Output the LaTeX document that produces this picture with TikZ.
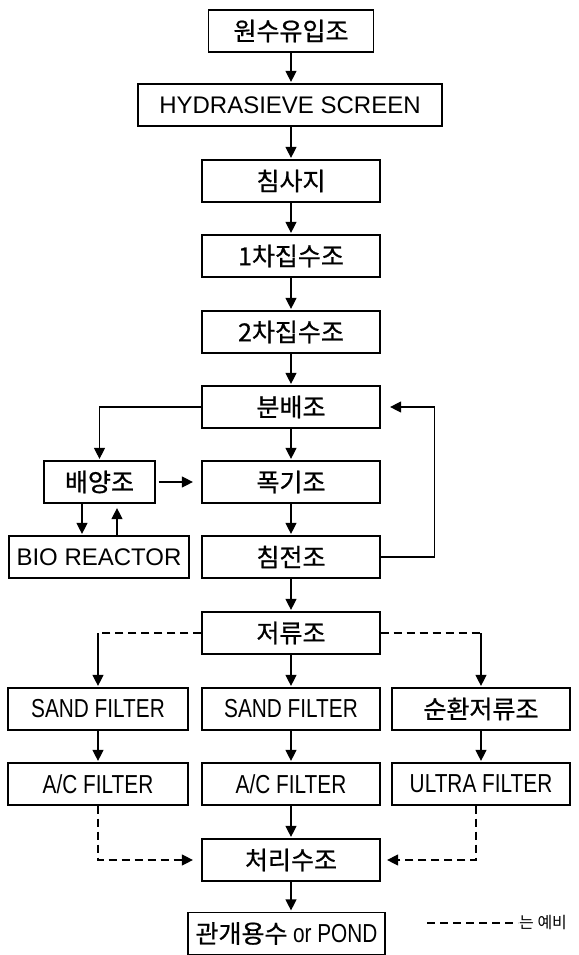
\documentclass[tikz,border=0pt]{standalone}
\usepackage{fontspec}
\setmainfont{Liberation Sans}
\newfontfamily\krf{Noto Sans CJK KR}[FakeBold=0.7]
\newfontfamily\krl{Noto Sans CJK KR}
\newfontfamily\cnd[FakeStretch=0.8]{Liberation Sans}
\usetikzlibrary{arrows.meta}
\begin{document}
\begin{tikzpicture}[x=1pt,y=-1pt,
  box/.style={draw, line width=1.2pt, inner sep=0pt, minimum height=42pt, align=center},
  kr/.style={font=\krf\fontsize{25}{25}\selectfont},
  lat/.style={font=\fontsize{24}{24}\selectfont},
  cn/.style={font=\cnd\fontsize{26}{26}\selectfont},
  arr/.style={line width=1.2pt, -{Triangle[length=11pt,width=11pt]}, shorten >=1.5pt},
  dsh/.style={line width=1.2pt, dash pattern=on 8pt off 5pt}]
\useasboundingbox (0,0) rectangle (578,955);
% main column
\node[box,kr,minimum width=165pt] (won) at (291,31) {원수유입조};
\node[box,lat,minimum width=304pt] (hyd) at (290,105) {HYDRASIEVE SCREEN};
\node[box,kr,minimum width=178pt] (sa) at (291,181) {침사지};
\node[box,kr,minimum width=178pt] (c1) at (291,256) {1차집수조};
\node[box,kr,minimum width=178pt] (c2) at (291,332) {2차집수조};
\node[box,kr,minimum width=178pt] (fen) at (291,407) {분배조};
\node[box,kr,minimum width=111pt] (bae) at (99.5,482) {배양조};
\node[box,kr,minimum width=178pt] (pok) at (291,482) {폭기조};
\node[box,lat,minimum width=180pt] (bio) at (99,557) {BIO REACTOR};
\node[box,kr,minimum width=178pt] (chim) at (291,557) {침전조};
\node[box,kr,minimum width=178pt] (jeo) at (291,633) {저류조};
\node[box,cn,minimum width=180pt] (sf1) at (98,709) {SAND FILTER};
\node[box,cn,minimum width=178pt] (sf2) at (291,709) {SAND FILTER};
\node[box,kr,minimum width=178pt] (sun) at (481,709) {순환저류조};
\node[box,cn,minimum width=180pt] (ac1) at (98,784) {A/C FILTER};
\node[box,cn,minimum width=178pt] (ac2) at (291,784) {A/C FILTER};
\node[box,cn,minimum width=178pt] (uf) at (481,784) {ULTRA FILTER};
\node[box,kr,minimum width=178pt] (cheo) at (291,860) {처리수조};
\node[box,kr,minimum width=197pt] (gwan) at (286.5,933.5) {관개용수 {\cnd\fontsize{26}{26}\selectfont or POND}};
% connectors
\draw[arr] (won.south) -- (won.south |- hyd.north);
\draw[arr] (hyd.south -| sa.north) -- (sa.north);
\draw[arr] (sa) -- (c1);
\draw[arr] (c1) -- (c2);
\draw[arr] (c2) -- (fen);
\draw[arr] (fen) -- (pok);
\draw[arr] (fen.west) -| (bae.north);
\draw[arr] ([xshift=3pt]bae.east) -- ([xshift=-7pt]pok.west);
\draw[arr] ([xshift=-17.5pt]bae.south) -- ([xshift=-17.5pt]bae.south |- bio.north);
\draw[arr] ([xshift=17.5pt]bae.south |- bio.north) -- ([xshift=17.5pt,yshift=-3pt]bae.south);
\draw[arr] (pok) -- (chim);
\draw[arr] (chim.east) -- ++(54,0) |- ([xshift=8pt]fen.east);
\draw[arr] (chim) -- (jeo);
\coordinate (jl) at (jeo.west -| sf1.north);
\coordinate (jr) at (jeo.east -| sun.north);
\draw[dsh] (jeo.west) -- (jl);
\draw[arr] (jl) -- (sf1.north);
\draw[dsh] (jeo.east) -- (jr);
\draw[arr] (jr) -- (sun.north);
\draw[arr] (jeo) -- (sf2);
\draw[arr] (sf1) -- (ac1);
\draw[arr] (sf2) -- (ac2);
\draw[arr] (sun) -- (uf);
\draw[arr] (ac2) -- (cheo);
\draw[dsh,arr] (ac1.south) |- ([xshift=-7pt]cheo.west);
\draw[dsh,arr] ([xshift=-5pt]uf.south) |- ([xshift=5pt]cheo.east);
\draw[arr] (cheo.south) -- (cheo.south |- gwan.north);
% legend
\coordinate (lg1) at (427,923);
\coordinate (lg2) at (518,923);
\draw[dsh] (lg1) -- (lg2);
\node[anchor=west, inner sep=1pt, font=\krl\fontsize{16}{16}\selectfont] (leg) at (lg2) {는 예비};
\end{tikzpicture}
\end{document}
